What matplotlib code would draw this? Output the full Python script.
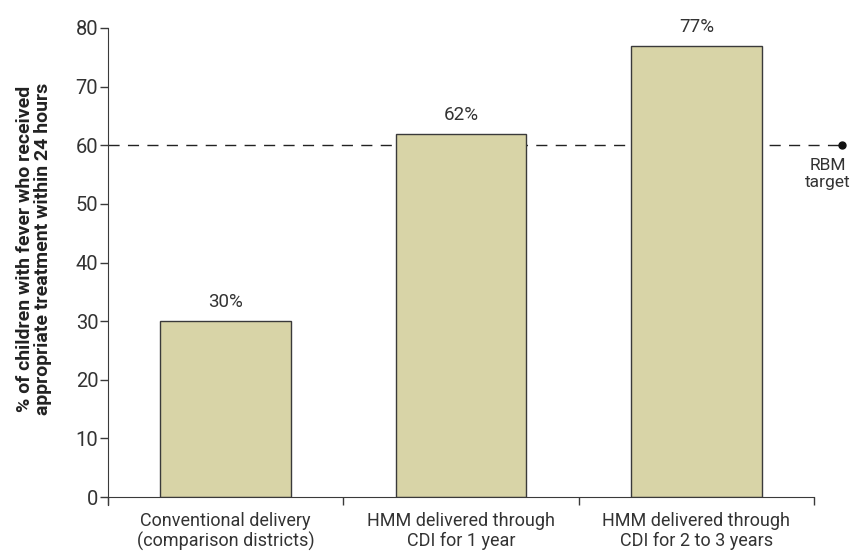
import matplotlib.pyplot as plt
from matplotlib.ticker import FixedLocator, NullFormatter

plt.rcParams['font.family'] = ['Roboto', 'DejaVu Sans']

# ---- data ----
categories = ["Conventional delivery\n(comparison districts)",
              "HMM delivered through\nCDI for 1 year",
              "HMM delivered through\nCDI for 2 to 3 years"]
values = [30, 62, 77]
value_labels = ["30%", "62%", "77%"]
target_value = 60
target_label = "RBM\ntarget"
ylabel = "% of children with fever who received\nappropriate treatment within 24 hours"

bar_color = "#d8d4a7"
edge_color = "#3a3a3a"
text_color = "#333333"

fig = plt.figure(figsize=(8.54, 5.52), dpi=100)
ax = fig.add_axes([0.1265, 0.0996, 0.8267, 0.8497])

x = list(range(len(categories)))

# target line goes behind the bars and runs past the axis end
ax.plot([-0.5, 2.62], [target_value, target_value], color="#222222", lw=1.0,
        linestyle=(0, (8, 6)), clip_on=False, zorder=1)
ax.plot([2.62], [target_value], marker="o", color="#111111", markersize=5,
        clip_on=False, zorder=3)
ax.text(2.56, target_value - 2.2, target_label, ha="center", va="top",
        fontsize=12.5, color=text_color, linespacing=1.15)

bars = ax.bar(x, values, width=0.555, color=bar_color, edgecolor=edge_color,
              linewidth=1.0, zorder=2)

for xi, v, lab in zip(x, values, value_labels):
    ax.annotate(lab, (xi, v), xytext=(0, 7), textcoords="offset points",
                ha="center", va="bottom", fontsize=13.5, color=text_color)

ax.set_xlim(-0.5, 2.5)
ax.set_ylim(0, 80)
ax.set_yticks(range(0, 81, 10))

# boundary ticks between categories, labels centred under the bars
ax.xaxis.set_major_locator(FixedLocator([-0.5, 0.5, 1.5, 2.5]))
ax.xaxis.set_major_formatter(NullFormatter())
ax.xaxis.set_minor_locator(FixedLocator(x))
ax.set_xticklabels(categories, minor=True)
ax.tick_params(axis="x", which="major", direction="out", length=6, width=1,
               color=edge_color)
ax.tick_params(axis="x", which="minor", length=0, pad=11, labelsize=13,
               labelcolor=text_color)
ax.tick_params(axis="y", direction="out", length=6, width=1, color=edge_color,
               labelsize=14.5, labelcolor=text_color, pad=1)
for lab in ax.get_xticklabels(minor=True):
    lab.set_linespacing(1.1)

ax.spines["top"].set_visible(False)
ax.spines["right"].set_visible(False)
ax.spines["left"].set_color(edge_color)
ax.spines["bottom"].set_color(edge_color)
ax.spines["left"].set_bounds(-1.4, 80)

ax.set_ylabel(ylabel, fontsize=14, fontweight="bold", color="#222222",
              linespacing=1.0)
ax.yaxis.set_label_coords(-0.08, 0.53)

fig.savefig("out.png", dpi=100)
